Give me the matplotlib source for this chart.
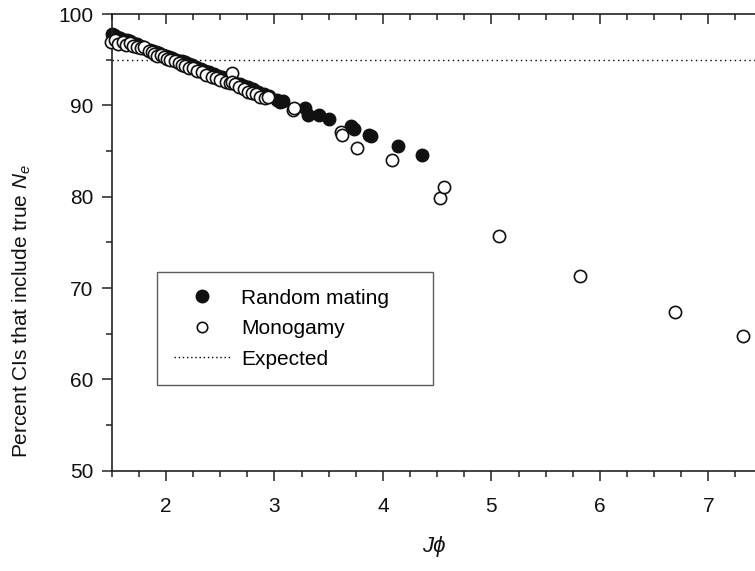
import matplotlib
matplotlib.use("Agg")
import matplotlib.pyplot as plt
from matplotlib.ticker import MultipleLocator
from matplotlib.lines import Line2D

plt.rcParams['font.family'] = ['Liberation Sans', 'DejaVu Sans']
plt.rcParams['mathtext.fontset'] = 'custom'
plt.rcParams['mathtext.rm'] = 'Liberation Sans'
plt.rcParams['mathtext.it'] = 'Liberation Sans:italic'

# Random mating (filled)
rm_j = [1.50, 1.52, 1.55, 1.58, 1.61, 1.64, 1.67, 1.70, 1.73, 1.76, 1.79, 1.82,
        1.85, 1.88, 1.91, 1.94, 1.97, 2.00, 2.03, 2.06, 2.09, 2.12, 2.15, 2.18,
        2.21, 2.24, 2.28, 2.32, 2.36, 2.40, 2.44, 2.48, 2.52, 2.56, 2.60, 2.64,
        2.68, 2.72, 2.76, 2.80, 2.85, 2.90, 2.95, 3.02, 3.05, 3.08,
        3.28, 3.31, 3.41, 3.50, 3.71, 3.73, 3.87, 3.89, 4.14, 4.36]
rm_v = [97.8, 97.7, 97.5, 97.4, 97.2, 97.1, 97.0, 96.8, 96.7, 96.5, 96.4, 96.2,
        96.1, 95.9, 95.8, 95.7, 95.5, 95.4, 95.3, 95.2, 95.0, 94.9, 94.8, 94.7,
        94.5, 94.4, 94.2, 94.0, 93.8, 93.6, 93.4, 93.2, 93.1, 92.9, 92.7, 92.5,
        92.3, 92.1, 92.0, 91.8, 91.5, 91.2, 91.0, 90.6, 90.4, 90.5,
        89.7, 88.9, 88.9, 88.5, 87.7, 87.4, 86.8, 86.6, 85.6, 84.6]

# Monogamy (open)
mo_j = [1.49, 1.53, 1.56, 1.60, 1.63, 1.67, 1.70, 1.73, 1.77, 1.80, 1.84, 1.87,
        1.89, 1.92, 1.95, 1.98, 2.01, 2.04, 2.08, 2.12, 2.15, 2.18, 2.21, 2.25,
        2.29, 2.33, 2.37, 2.42, 2.46, 2.50, 2.55, 2.59, 2.61, 2.61, 2.64, 2.67,
        2.72, 2.76, 2.79, 2.83, 2.87, 2.91, 2.94, 3.175, 3.18, 3.61, 3.62, 3.76,
        4.08, 4.53, 4.56, 5.07, 5.82, 6.69, 7.32]
mo_v = [96.9, 97.1, 96.7, 96.9, 96.6, 96.8, 96.5, 96.4, 96.3, 96.4, 96.0, 95.8,
        95.6, 95.4, 95.5, 95.3, 95.1, 94.96, 94.9, 94.6, 94.4, 94.3, 94.1, 94.05,
        93.8, 93.6, 93.3, 93.06, 93.0, 92.8, 92.6, 92.4, 93.5, 92.6, 92.3, 91.97,
        91.8, 91.5, 91.3, 91.2, 90.94, 90.8, 90.9, 89.5, 89.7, 87.1, 86.75, 85.3,
        84.0, 79.9, 81.1, 75.7, 71.3, 67.4, 64.7]

expected = 95
x_ticks = [2, 3, 4, 5, 6, 7]
y_ticks = [50, 60, 70, 80, 90, 100]

W, H = 755, 571
fig = plt.figure(figsize=(W / 100, H / 100), dpi=100)
left, right, top, bottom = 111.7, 755, 14, 470.7
ax = fig.add_axes([left / W, 1 - bottom / H, (right - left) / W, (bottom - top) / H])

ax.axhline(expected, color='black', linestyle=(0, (1, 2.5)), linewidth=1.0, zorder=1)
ax.plot(rm_j, rm_v, linestyle='none', marker='o', markersize=9.0,
        markerfacecolor='#111111', markeredgecolor='#111111', markeredgewidth=1.0,
        zorder=2, clip_on=False)
ax.plot(mo_j, mo_v, linestyle='none', marker='o', markersize=8.8,
        markerfacecolor='white', markeredgecolor='#111111', markeredgewidth=1.2,
        zorder=3, clip_on=False)

ax.set_xlim(1.5, 7.43)
ax.set_ylim(50, 100)
ax.set_xticks(x_ticks)
ax.set_yticks(y_ticks)
ax.xaxis.set_minor_locator(MultipleLocator(0.25))
ax.yaxis.set_minor_locator(MultipleLocator(5))

ax.spines['right'].set_visible(False)
for s in ['left', 'top', 'bottom']:
    ax.spines[s].set_linewidth(1.2)
    ax.spines[s].set_color('#222222')

ax.tick_params(axis='x', which='both', direction='out', top=True, bottom=True,
               labeltop=False, labelsize=15, pad=12, colors='#222222', labelcolor='#111111')
ax.tick_params(axis='x', which='major', length=7, width=1.1)
ax.tick_params(axis='x', which='minor', length=4, width=1.1)
ax.tick_params(axis='y', which='both', direction='out', labelsize=15, pad=6,
               colors='#222222', labelcolor='#111111')
ax.tick_params(axis='y', which='major', length=7, width=1.1)
ax.tick_params(axis='y', which='minor', length=4, width=1.1)
# top ticks point inward (downward)
for t in ax.xaxis.get_major_ticks() + ax.xaxis.get_minor_ticks():
    t.tick2line.set_marker(3)  # TICKDOWN

ax.set_ylabel('Percent CIs that include true $N_e$', fontsize=15, labelpad=10, color='#111111')
ax.yaxis.set_label_coords(-0.122, 0.35)
ax.set_xlabel('J\u03d5', fontsize=16, fontstyle='italic', labelpad=14, color='#111111')

handles = [
    Line2D([], [], linestyle='none', marker='o', markersize=9.0, markerfacecolor='#111111', markeredgecolor='#111111'),
    Line2D([], [], linestyle='none', marker='o', markersize=7.5, markerfacecolor='white', markeredgecolor='#111111', markeredgewidth=1.2),
    Line2D([], [], color='black', linestyle=(0, (1, 2)), linewidth=1.0),
]
x0 = (157 - left) / (right - left)
x1 = (433 - left) / (right - left)
y1 = 1 - (272 - top) / (bottom - top)
leg = ax.legend(handles, ['Random mating', 'Monogamy', 'Expected'],
                loc='upper left', bbox_to_anchor=(x0, y1, x1 - x0, 0.0), mode='expand',
                fontsize=15, frameon=True, fancybox=False, borderpad=0.8,
                handlelength=2.75, handletextpad=0.5, labelspacing=0.55, borderaxespad=0)
leg.get_frame().set_edgecolor('#333333')
leg.get_frame().set_linewidth(1.0)

fig.savefig('out.png', dpi=100)
